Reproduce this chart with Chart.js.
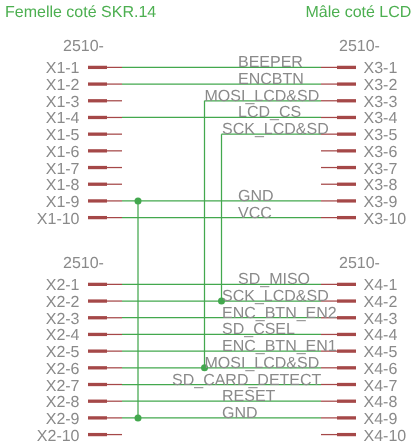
<!DOCTYPE html>
<html>
<head>
<meta charset="utf-8">
<style>
  html, body { margin: 0; padding: 0; background: #fff; }
  canvas { display: block; }
</style>
<script src="https://cdn.jsdelivr.net/npm/chart.js@4"></script>
</head>
<body>
<canvas id="chart" width="420" height="448"></canvas>
<script>
// rows on the y axis: 1-10 are X1/X3, 14-23 are X2/X4
const upperRows = [1, 2, 3, 4, 5, 6, 7, 8, 9, 10];
const lowerRows = [14, 15, 16, 17, 18, 19, 20, 21, 22, 23];
const headerRows = [0, 13];

// x axis columns
const leftPin = [88, 107, 122];
const rightPin = [356, 337, 321];

// wires running straight across, left connector to right connector
const fullWires = [1, 2, 4, 9, 10, 14, 15, 16, 17, 18, 19, 20, 21, 22];
// wires that start on a bus and run to the right connector
const busWires = [[204.5, 3], [221.5, 5]];
// vertical buses: column, first row, last row
const busRuns = [[138, 9, 22], [204.5, 3, 19], [221.5, 5, 15]];
const junctions = [[138, 9], [138, 22], [221.5, 15], [204.5, 19]];

const wireNames = [
  ['BEEPER', 238, 1], ['ENCBTN', 238, 2], ['MOSI_LCD&SD', 204.5, 3], ['LCD_CS', 238, 4],
  ['SCK_LCD&SD', 222, 5], ['GND', 238, 9], ['VCC', 238, 10], ['SD_MISO', 238, 14],
  ['SCK_LCD&SD', 222, 15], ['ENC_BTN_EN2', 222, 16], ['SD_CSEL', 222, 17],
  ['ENC_BTN_EN1', 222, 18], ['MOSI_LCD&SD', 204.5, 19], ['SD_CARD_DETECT', 172, 20],
  ['RESET', 222, 21], ['GND', 222, 22]
];

const GREEN = '#43a84e';
const TITLE_GREEN = '#4caf50';
const RED = '#a54848';
const GREY = '#8a8a8a';
const FONT = '16px "Liberation Sans"';

function line(points, color, width) {
  return {
    data: points.map(p => ({ x: p[0], y: p[1] })),
    showLine: true,
    borderColor: color,
    borderWidth: width,
    pointRadius: 0
  };
}

const datasets = [];
upperRows.concat(lowerRows).forEach(row => {
  datasets.push(line([[leftPin[0], row], [leftPin[1], row]], RED, 3.3));
  datasets.push(line([[leftPin[1], row], [leftPin[2], row]], RED, 1.25));
  datasets.push(line([[rightPin[0], row], [rightPin[1], row]], RED, 3.3));
  datasets.push(line([[rightPin[1], row], [rightPin[2], row]], RED, 1.25));
});
fullWires.forEach(row => datasets.push(line([[leftPin[2], row], [rightPin[2], row]], GREEN, 1.25)));
busWires.forEach(w => datasets.push(line([[w[0], w[1]], [rightPin[2], w[1]]], GREEN, 1.25)));
busRuns.forEach(b => datasets.push(line([[b[0], b[1]], [b[0], b[2]]], GREEN, 1.25)));
datasets.push({
  data: junctions.map(p => ({ x: p[0], y: p[1] })),
  showLine: false,
  pointRadius: 3.5,
  pointBackgroundColor: GREEN,
  pointBorderWidth: 0
});

const labelsPlugin = {
  id: 'labels',
  afterDatasetsDraw(chart) {
    const c = chart.ctx;
    const sx = chart.scales.x;
    const sy = chart.scales.y;
    const put = (text, x, row, color, align, dy) => {
      c.fillStyle = color;
      c.textAlign = align;
      c.textBaseline = 'alphabetic';
      c.fillText(text, sx.getPixelForValue(x), sy.getPixelForValue(row) + (dy || 0));
    };
    c.save();
    c.font = FONT;
    c.textRendering = 'geometricPrecision';
    put('Femelle coté SKR.14', 5, -2, TITLE_GREEN, 'left');
    put('Mâle coté LCD', 305.5, -2, TITLE_GREEN, 'left');
    headerRows.forEach(row => {
      put('2510-', 63, row, GREY, 'left');
      put('2510-', 339, row, GREY, 'left');
    });
    upperRows.forEach((row, i) => {
      put('X1-' + (i + 1), 79.5, row, GREY, 'right', 6);
      put('X3-' + (i + 1), 363.5, row, GREY, 'left', 6);
    });
    lowerRows.forEach((row, i) => {
      put('X2-' + (i + 1), 79.5, row, GREY, 'right', 6);
      put('X4-' + (i + 1), 363.5, row, GREY, 'left', 6);
    });
    wireNames.forEach(n => put(n[0], n[1], n[2], GREY, 'left'));
    c.restore();
  }
};

new Chart(document.getElementById('chart'), {
  type: 'scatter',
  data: { datasets: datasets },
  plugins: [labelsPlugin],
  options: {
    responsive: false,
    animation: false,
    layout: { padding: 0, autoPadding: false },
    plugins: { legend: { display: false }, tooltip: { enabled: false } },
    scales: {
      x: { type: 'linear', display: false, min: 0, max: 420 },
      y: { type: 'linear', display: false, reverse: true, min: -3.038, max: 23.804 }
    }
  }
});
</script>
</body>
</html>
